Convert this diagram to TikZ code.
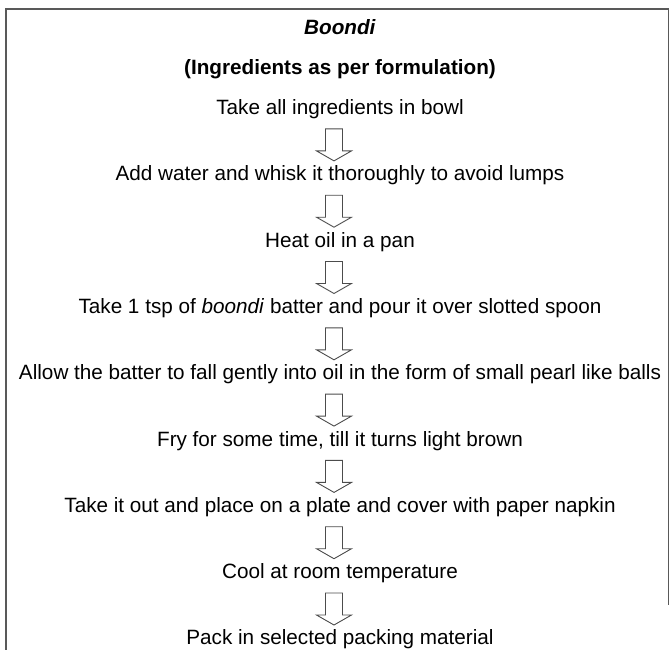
\documentclass[tikz,border=0pt]{standalone}
\usepackage{fontspec}
\setmainfont{Liberation Sans}
\usetikzlibrary{positioning,calc}

\begin{document}
\begin{tikzpicture}[x=1pt,y=-1pt,
  steptxt/.style={anchor=base,inner sep=0pt,text height=15.5pt,text depth=4.5pt,
    font=\fontsize{20.7}{25}\selectfont},
  frame/.style={line width=1.4pt,draw=black!65},
  pics/downarr/.style={code={
    \draw[line width=0.9pt,draw=black!70,fill=white]
      (-8.5,-16) -- (8.5,-16) -- (8.5,6) -- (17.5,6) -- (0,16) -- (-17.5,6) -- (-8.5,6) -- cycle;}}]
\useasboundingbox (0,0) rectangle (669,650);
% frame (open at the bottom)
\draw[frame] (6,650) -- (6,9) -- (669,9);
\draw[frame] (668.3,9) -- (668.3,605);
% headings
\node[steptxt] (title) at (340,34.5) {\textbf{\textit{Boondi}}};
\node[steptxt] (sub) at (340,74.5) {\textbf{(Ingredients as per formulation)}};
% process steps
\node[steptxt] (s1) at (340,114.5) {Take all ingredients in bowl};
\node[steptxt] (s2) at (340,180.8) {Add water and whisk it thoroughly to avoid lumps};
\node[steptxt] (s3) at (340,247.1) {Heat oil in a pan};
\node[steptxt] (s4) at (340,313.4) {Take 1 tsp of \textit{boondi} batter and pour it over slotted spoon};
\node[steptxt] (s5) at (340,379.7) {Allow the batter to fall gently into oil in the form of small pearl like balls};
\node[steptxt] (s6) at (340,446.0) {Fry for some time, till it turns light brown};
\node[steptxt] (s7) at (340,512.3) {Take it out and place on a plate and cover with paper napkin};
\node[steptxt] (s8) at (340,578.6) {Cool at room temperature};
\node[steptxt] (s9) at (340,644.9) {Pack in selected packing material};
% hollow arrows between steps
\coordinate (ax) at (334,0);
\foreach \i [evaluate=\i as \j using int(\i+1)] in {1,...,8}
  \path (s\i.south -| ax) -- pic[pos=0.56]{downarr} (s\j.north -| ax);
\end{tikzpicture}
\end{document}
